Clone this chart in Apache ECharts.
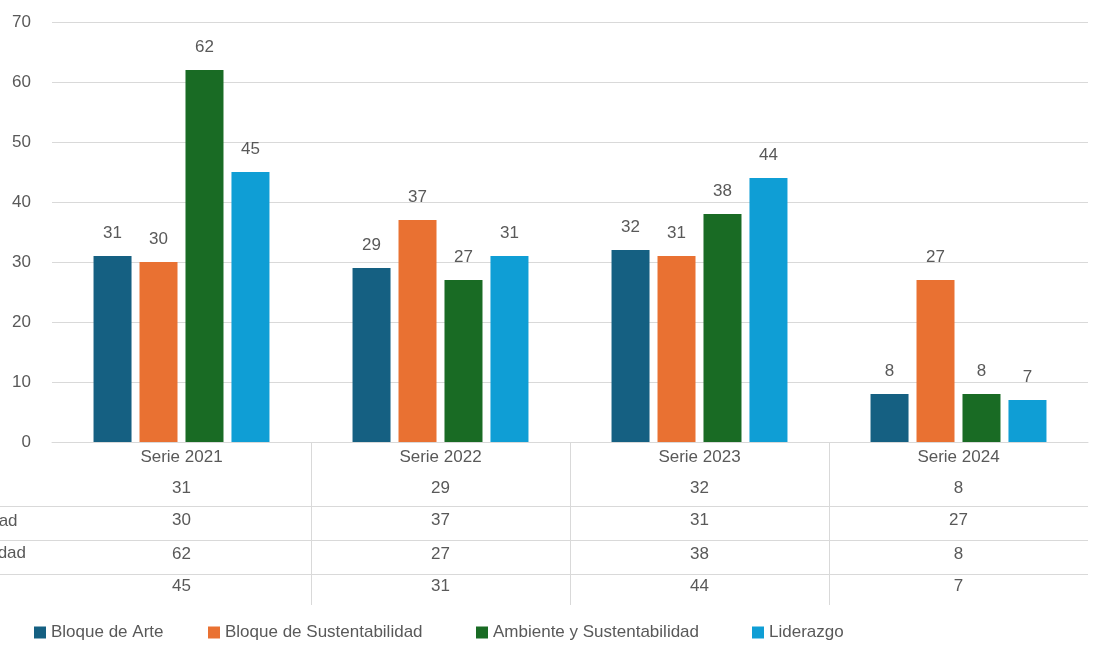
<!DOCTYPE html>
<html><head><meta charset="utf-8">
<script src="https://cdn.jsdelivr.net/npm/echarts@6/dist/echarts.min.js"></script>
<style>html,body{margin:0;padding:0;background:#fff}#c{width:1096px;height:648px}</style>
</head><body><div id="c"></div>
<script>
// ---- data ----
const categories = ['Serie 2021', 'Serie 2022', 'Serie 2023', 'Serie 2024'];
const seriesNames = ['Bloque de Arte', 'Bloque de Sustentabilidad', 'Ambiente y Sustentabilidad', 'Liderazgo'];
const arte = [31, 29, 32, 8];
const sustentabilidad = [30, 37, 31, 27];
const ambiente = [62, 27, 38, 8];
const liderazgo = [45, 31, 44, 7];
const yMin = 0, yMax = 70, yInterval = 10;

// ---- style ----
const FONT = '"Liberation Sans Narrow", "Liberation Sans", Arial, sans-serif';
const TXT = '#595959';
const LINE = '#D9D9D9';
const FS = 17;
const colors = ['#156082', '#E97132', '#196B24', '#0F9ED5'];
const allValues = [arte, sustentabilidad, ambiente, liderazgo];
const rowOffsets = [31, 63, 97, 129];
const legendLefts = [34, 208, 476, 752];

const chart = echarts.init(document.getElementById('c'));

const xAxes = [{
  type: 'category', gridIndex: 0, data: categories,
  axisLine: { show: true, lineStyle: { color: LINE, width: 1 } },
  axisTick: { show: false },
  axisLabel: { color: TXT, fontFamily: FONT, fontSize: FS, margin: 7, interval: 0 }
}];
allValues.forEach((vals, i) => {
  xAxes.push({
    type: 'category', gridIndex: 0, data: categories, position: 'bottom', offset: rowOffsets[i],
    axisLine: { show: false }, axisTick: { show: false },
    axisLabel: { color: TXT, fontFamily: FONT, fontSize: FS, margin: 7, interval: 0,
      formatter: (v, idx) => String(vals[idx]) }
  });
});
// grid 1: vertical table lines
xAxes.push({
  type: 'category', gridIndex: 1, data: categories,
  axisLine: { show: false }, axisTick: { show: false }, axisLabel: { show: false },
  splitLine: { show: true, showMinLine: false, showMaxLine: false, lineStyle: { color: LINE, width: 1 } }
});
// grid 2: horizontal table lines
xAxes.push({ type: 'value', gridIndex: 2, show: false, min: 0, max: 1 });
// grid 3: row labels
xAxes.push({ type: 'value', gridIndex: 3, show: false, min: 0, max: 1 });

const yAxes = [
  { type: 'value', gridIndex: 0, min: yMin, max: yMax, interval: yInterval,
    axisLine: { show: false }, axisTick: { show: false },
    axisLabel: { color: TXT, fontFamily: FONT, fontSize: FS, margin: 21 },
    splitLine: { lineStyle: { color: LINE, width: 1 } } },
  { type: 'value', gridIndex: 1, show: false, min: 0, max: 1 },
  { type: 'value', gridIndex: 2, min: 0, max: 2, interval: 1,
    axisLine: { show: false }, axisTick: { show: false }, axisLabel: { show: false },
    splitLine: { show: true, lineStyle: { color: LINE, width: 1 } } },
  { type: 'category', gridIndex: 3, data: seriesNames, inverse: true,
    axisLine: { show: false }, axisTick: { show: false }, splitLine: { show: false },
    axisLabel: { color: TXT, fontFamily: FONT, fontSize: FS, align: 'left', margin: 180 } }
];

chart.setOption({
  animation: false,
  backgroundColor: '#ffffff',
  color: colors,
  textStyle: { fontFamily: FONT },
  grid: [
    { left: 52, right: 8, top: 22, bottom: 206, outerBoundsMode: 'none' },
    { left: 52, right: 8, top: 442, height: 163, outerBoundsMode: 'none' },
    { left: 0, right: 8, top: 506, height: 68, outerBoundsMode: 'none' },
    { left: 0, right: 8, top: 473, height: 128, outerBoundsMode: 'none' }
  ],
  legend: seriesNames.map((n, i) => ({
    left: legendLefts[i], top: 624, padding: 0, itemWidth: 12, itemHeight: 12, itemGap: 0,
    icon: 'rect',
    textStyle: { color: TXT, fontFamily: FONT, fontSize: FS },
    data: [n]
  })),
  xAxis: xAxes,
  yAxis: yAxes,
  series: allValues.map((vals, i) => ({
    name: seriesNames[i], type: 'bar', xAxisIndex: 0, yAxisIndex: 0,
    data: vals, barWidth: 38, barGap: '21%',
    itemStyle: { color: colors[i] },
    label: { show: true, position: 'top', distance: 14, color: TXT, fontFamily: FONT, fontSize: FS }
  }))
});
</script>
</body></html>
